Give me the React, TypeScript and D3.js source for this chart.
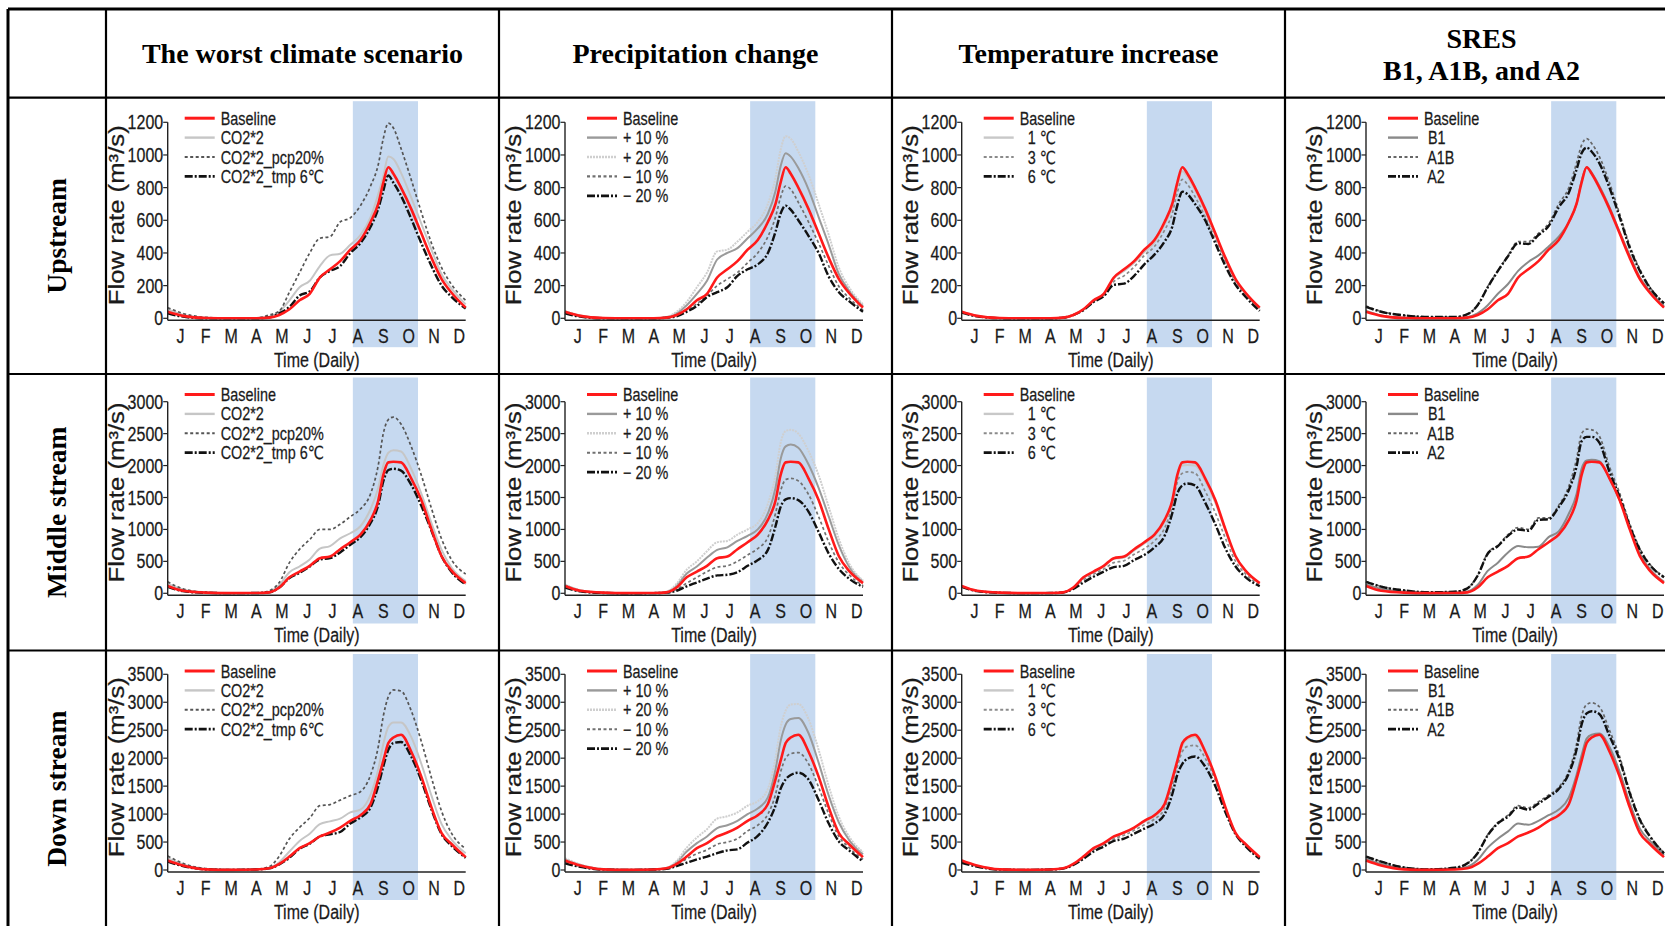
import * as d3 from "d3";

// month letters on the x axis, placed at mid-month
const monthLabels = ["J", "F", "M", "A", "M", "J", "J", "A", "S", "O", "N", "D"];
// sample positions in months (0 = 1 Jan)
const samplePos = [0, 0.6, 1.5, 2.5, 3.5, 4.0, 4.4, 4.8, 5.2, 5.6, 6.0, 6.4, 6.8, 7.2, 7.6, 8.0, 8.3, 8.5, 8.7, 8.9, 9.2, 9.6, 10.0, 10.4, 10.8, 11.2, 11.75];
// shaded period (months)
const floodSeason = [7.3, 9.87];

const columnTitles = [["The worst climate scenario"], ["Precipitation change"], ["Temperature increase"], ["SRES", "B1, A1B, and A2"]];
const rowTitles = ["Upstream", "Middle stream", "Down stream"];
const yMax = [1200, 3000, 3500];
const yStep = [200, 500, 500];

const legendLabels = [
  ["Baseline", "CO2*2", "CO2*2_pcp20%", "CO2*2_tmp 6℃"],
  ["Baseline", "+ 10 %", "+ 20 %", "− 10 %", "− 20 %"],
  ["Baseline", "  1 ℃", "  3 ℃", "  6 ℃"],
  ["Baseline", " B1", " A1B", " A2"],
];

// ---- upstream (m3/s)
const upBase = [40, 15, 2, 0, 0, 4, 20, 55, 110, 150, 250, 300, 350, 420, 480, 590, 700, 830, 925, 885, 800, 670, 520, 370, 240, 155, 65];
const upCO2 = [55, 22, 4, 0, 2, 10, 40, 110, 190, 230, 320, 385, 395, 450, 510, 620, 760, 870, 990, 975, 890, 740, 580, 420, 270, 180, 85];
const upPcp20 = [65, 30, 6, 1, 2, 20, 45, 160, 280, 400, 490, 500, 590, 615, 690, 810, 940, 1100, 1195, 1165, 1040, 850, 650, 460, 310, 205, 110];
const upTmp6 = [30, 10, 0, 0, 0, 6, 30, 70, 140, 165, 250, 290, 320, 400, 460, 560, 670, 780, 875, 830, 750, 610, 460, 320, 200, 130, 60];
const upP10 = [40, 16, 2, 0, 0, 6, 30, 80, 150, 230, 360, 400, 430, 490, 550, 640, 780, 930, 1010, 990, 920, 790, 620, 450, 270, 170, 75];
const upP20 = [45, 18, 3, 0, 0, 8, 40, 100, 190, 280, 410, 420, 470, 530, 590, 700, 860, 1030, 1115, 1100, 1020, 880, 700, 510, 310, 190, 85];
const upM10 = [35, 12, 1, 0, 0, 5, 20, 50, 90, 140, 200, 240, 280, 340, 400, 500, 620, 740, 810, 790, 710, 590, 460, 320, 195, 125, 50];
const upM20 = [30, 10, 0, 0, 0, 4, 12, 40, 75, 130, 160, 190, 260, 300, 330, 400, 530, 640, 690, 665, 600, 505, 400, 255, 160, 105, 40];
const upT1 = [40, 15, 2, 0, 0, 4, 20, 55, 105, 145, 245, 290, 340, 405, 465, 575, 680, 810, 900, 865, 785, 655, 510, 360, 235, 150, 62];
const upT3 = [38, 14, 2, 0, 0, 4, 20, 55, 105, 140, 225, 260, 315, 385, 440, 540, 640, 770, 850, 820, 745, 620, 485, 345, 225, 145, 60];
const upT6 = [35, 12, 1, 0, 0, 4, 20, 50, 100, 135, 205, 212, 260, 330, 390, 470, 560, 690, 775, 760, 700, 600, 460, 320, 205, 130, 45];
const upB1 = [45, 18, 4, 0, 1, 8, 30, 80, 150, 210, 290, 345, 385, 440, 500, 590, 700, 840, 925, 890, 810, 680, 530, 385, 250, 165, 75];
const upA1B = [75, 42, 18, 8, 8, 25, 80, 195, 290, 385, 470, 470, 520, 580, 700, 800, 950, 1060, 1100, 1070, 990, 830, 640, 445, 300, 190, 95];
const upA2 = [70, 40, 18, 8, 8, 25, 80, 190, 290, 380, 460, 455, 510, 565, 680, 770, 910, 1010, 1045, 1020, 950, 800, 620, 430, 290, 185, 92];

// ---- middle stream
const midBase = [115, 40, 10, 2, 5, 15, 90, 250, 340, 430, 550, 575, 690, 800, 920, 1150, 1450, 1850, 2050, 2060, 2050, 1800, 1460, 1000, 580, 350, 160];
const midCO2 = [150, 60, 15, 3, 5, 25, 130, 330, 420, 530, 700, 740, 860, 940, 1050, 1320, 1650, 2000, 2200, 2240, 2220, 1950, 1560, 1100, 680, 400, 190];
const midPcp20 = [180, 70, 15, 3, 5, 40, 170, 480, 690, 840, 1000, 1000, 1080, 1200, 1320, 1560, 2000, 2500, 2720, 2760, 2650, 2300, 1850, 1330, 850, 520, 300];
const midTmp6 = [100, 35, 8, 2, 5, 15, 90, 240, 320, 420, 530, 550, 640, 760, 880, 1100, 1380, 1750, 1930, 1950, 1920, 1700, 1370, 980, 580, 330, 140];
const midP10 = [130, 45, 10, 2, 5, 20, 120, 310, 420, 560, 680, 720, 820, 900, 1000, 1250, 1650, 2100, 2300, 2330, 2280, 2020, 1650, 1200, 750, 420, 180];
const midP20 = [140, 50, 12, 3, 6, 25, 150, 370, 500, 660, 800, 820, 920, 1000, 1100, 1400, 1850, 2350, 2540, 2560, 2500, 2230, 1850, 1350, 850, 470, 200];
const midM10 = [100, 35, 6, 1, 4, 12, 60, 160, 250, 340, 410, 430, 500, 600, 700, 880, 1250, 1600, 1780, 1800, 1760, 1550, 1200, 800, 480, 290, 120];
const midM20 = [90, 30, 5, 1, 3, 10, 40, 110, 170, 230, 280, 290, 330, 430, 520, 680, 1050, 1350, 1470, 1490, 1460, 1280, 960, 620, 380, 230, 100];
const midT1 = [110, 40, 10, 2, 5, 15, 85, 240, 330, 420, 540, 560, 670, 780, 900, 1120, 1420, 1820, 2000, 2010, 2000, 1760, 1420, 980, 570, 350, 150];
const midT3 = [105, 38, 9, 2, 4, 14, 80, 210, 300, 380, 480, 510, 610, 700, 820, 1020, 1370, 1740, 1880, 1900, 1880, 1600, 1260, 860, 500, 300, 130];
const midT6 = [100, 35, 8, 2, 4, 12, 70, 170, 260, 340, 410, 430, 520, 600, 720, 900, 1250, 1560, 1690, 1720, 1690, 1420, 1080, 700, 420, 250, 110];
const midB1 = [140, 70, 25, 8, 12, 30, 130, 350, 480, 640, 740, 720, 730, 880, 970, 1250, 1550, 1950, 2080, 2090, 2070, 1800, 1460, 1040, 620, 380, 180];
const midA1B = [185, 108, 46, 16, 25, 80, 280, 630, 750, 920, 1030, 1000, 1180, 1180, 1380, 1680, 2100, 2500, 2570, 2560, 2460, 1980, 1570, 1090, 700, 450, 260];
const midA2 = [180, 104, 45, 16, 25, 78, 275, 620, 740, 900, 1000, 980, 1150, 1160, 1350, 1620, 1980, 2380, 2450, 2450, 2360, 1900, 1510, 1050, 680, 440, 250];

// ---- down stream
const downBase = [170, 80, 12, 3, 10, 30, 110, 240, 390, 480, 600, 670, 760, 880, 980, 1180, 1620, 1950, 2270, 2370, 2420, 2120, 1670, 1120, 660, 460, 230];
const downCO2 = [210, 100, 20, 5, 12, 40, 140, 330, 520, 650, 820, 870, 920, 1030, 1080, 1350, 1800, 2250, 2560, 2640, 2640, 2380, 1900, 1330, 820, 540, 300];
const downPcp20 = [250, 120, 25, 6, 14, 60, 250, 560, 760, 930, 1150, 1170, 1250, 1330, 1400, 1700, 2200, 2750, 3100, 3220, 3200, 2850, 2300, 1650, 1050, 650, 380];
const downTmp6 = [150, 70, 10, 2, 10, 28, 100, 220, 380, 470, 600, 640, 680, 830, 940, 1120, 1500, 1850, 2150, 2270, 2290, 2030, 1600, 1080, 640, 430, 220];
const downP10 = [190, 90, 16, 4, 11, 35, 140, 330, 480, 600, 750, 800, 880, 1000, 1100, 1300, 1800, 2300, 2600, 2700, 2720, 2450, 1920, 1330, 850, 540, 280];
const downP20 = [210, 100, 20, 5, 12, 40, 160, 400, 580, 730, 920, 960, 1030, 1150, 1230, 1450, 2000, 2550, 2850, 2960, 2970, 2700, 2150, 1500, 950, 600, 320];
const downM10 = [140, 65, 10, 2, 9, 25, 90, 200, 290, 360, 460, 500, 560, 700, 800, 1000, 1350, 1750, 2000, 2080, 2100, 1900, 1480, 1000, 600, 400, 190];
const downM20 = [120, 55, 8, 2, 8, 20, 70, 130, 190, 240, 300, 350, 370, 490, 610, 850, 1150, 1450, 1620, 1700, 1740, 1620, 1250, 830, 510, 350, 150];
const downT1 = [165, 78, 11, 3, 10, 30, 105, 235, 380, 470, 590, 660, 750, 860, 960, 1160, 1590, 1920, 2230, 2340, 2380, 2100, 1650, 1110, 660, 455, 225];
const downT3 = [150, 70, 10, 3, 10, 28, 100, 220, 360, 450, 560, 620, 710, 810, 910, 1100, 1500, 1850, 2120, 2210, 2230, 2000, 1600, 1080, 650, 440, 215];
const downT6 = [130, 60, 8, 2, 9, 25, 90, 200, 330, 420, 520, 560, 650, 740, 830, 1000, 1350, 1700, 1900, 1990, 2030, 1850, 1500, 1030, 640, 420, 200];
const downB1 = [200, 110, 30, 8, 25, 60, 180, 400, 560, 690, 830, 810, 880, 980, 1080, 1300, 1700, 2050, 2350, 2420, 2440, 2200, 1760, 1200, 740, 520, 270];
const downA1B = [245, 152, 46, 12, 40, 120, 305, 630, 850, 980, 1150, 1110, 1220, 1340, 1480, 1780, 2250, 2750, 2960, 2990, 2920, 2500, 2030, 1410, 920, 610, 305];
const downA2 = [238, 149, 45, 12, 40, 119, 300, 620, 835, 954, 1120, 1080, 1190, 1310, 1450, 1729, 2150, 2600, 2800, 2840, 2790, 2400, 1968, 1371, 894, 596, 298];

// panels[row][col] -> series in legend order (baseline first)
const panels = [
  [[upBase, upCO2, upPcp20, upTmp6], [upBase, upP10, upP20, upM10, upM20], [upBase, upT1, upT3, upT6], [upBase, upB1, upA1B, upA2]],
  [[midBase, midCO2, midPcp20, midTmp6], [midBase, midP10, midP20, midM10, midM20], [midBase, midT1, midT3, midT6], [midBase, midB1, midA1B, midA2]],
  [[downBase, downCO2, downPcp20, downTmp6], [downBase, downP10, downP20, downM10, downM20], [downBase, downT1, downT3, downT6], [downBase, downB1, downA1B, downA2]],
];

// line looks
const RED = { stroke: "#ff1a1a", width: 2.6, dash: "" };
const DOT = (c) => ({ stroke: c, width: 1.7, dash: "3,2.5" });
const SOLID = (c) => ({ stroke: c, width: 2, dash: "" });
const DASHDOT = { stroke: "#111", width: 2.4, dash: "8,2,2,2" };
const lineStyles = [
  [RED, SOLID("#c6c6c6"), DOT("#555"), DASHDOT],
  [RED, SOLID("#9a9a9a"), { stroke: "#cfcfcf", width: 2, dash: "2,1" }, DOT("#707070"), DASHDOT],
  [RED, SOLID("#c8c8c8"), DOT("#8a8a8a"), DASHDOT],
  [RED, SOLID("#8a8a8a"), DOT("#666"), DASHDOT],
];

// layout
const W = 1665;
const H = 926;
const colX = [8, 106, 499, 892, 1285, 1678];
const rowY = [9, 97.7, 374, 650.5, 927];
const plotLeft = [167.7, 565, 961.7, 1366];
const plotW = 298;
const yTopPx = [122.3, 401.7, 674.3];
const yZeroPx = [318.3, 593.3, 870];
const legendOffset = [17, 22, 22, 22];

const SANS = "'Liberation Sans', Arial, 'DejaVu Sans', sans-serif";
const SERIF = "'Liberation Serif', 'Times New Roman', serif";
const NARROW = 0.8;

function NText({ x, y, size, anchor = "start", children, fill = "#1a1a1a" }) {
  return (
    <text
      transform={`translate(${x},${y}) scale(${NARROW},1)`}
      fontSize={size}
      fontFamily={SANS}
      textAnchor={anchor}
      fill={fill}
      stroke={fill}
      strokeWidth={0.25}
      style={{ whiteSpace: "pre" }}
    >
      {children}
    </text>
  );
}

function Panel({ row, col }) {
  const left = plotLeft[col];
  const x = d3.scaleLinear().domain([0, 11.75]).range([left, left + plotW]);
  const y = d3.scaleLinear().domain([0, yMax[row]]).range([yZeroPx[row], yTopPx[row]]);
  const line = d3
    .line<number>()
    .x((_, i) => x(samplePos[i]))
    .y((d) => y(d))
    .curve(d3.curveMonotoneX);
  const ticks = d3.range(0, yMax[row] + 1, yStep[row]);
  const series = panels[row][col];
  const styles = lineStyles[col];
  const top = rowY[row + 1];
  const axisY = y(0) + 2;

  // draw the scenario lines first, baseline on top
  const order = series.map((_, i) => i).slice(1).concat([0]);

  return (
    <g>
      <rect
        x={x(floodSeason[0])}
        y={top + 3.5}
        width={x(floodSeason[1]) - x(floodSeason[0])}
        height={246}
        fill="#c6d9f0"
      />
      {order.map((i) => (
        <path
          key={i}
          d={line(series[i]) || ""}
          fill="none"
          stroke={styles[i].stroke}
          strokeWidth={styles[i].width}
          strokeDasharray={styles[i].dash}
          strokeLinejoin="round"
        />
      ))}
      {/* axes */}
      <line x1={left} x2={left + plotW} y1={axisY} y2={axisY} stroke="#222" strokeWidth={1.6} />
      <line x1={left} x2={left} y1={y(yMax[row])} y2={axisY} stroke="#222" strokeWidth={1.4} />
      {ticks.map((t) => (
        <g key={t}>
          <line x1={left - 4.5} x2={left} y1={y(t)} y2={y(t)} stroke="#222" strokeWidth={1.2} />
          <NText x={left - 4.5} y={y(t) + 7} size={20} anchor="end">
            {String(t)}
          </NText>
        </g>
      ))}
      {monthLabels.map((m, i) => (
        <NText key={i} x={x(i + 0.5)} y={y(0) + 25} size={20} anchor="middle">
          {m}
        </NText>
      ))}
      <NText x={left + plotW / 2} y={y(0) + 49} size={20} anchor="middle">
        Time (Daily)
      </NText>
      <text
        transform={`translate(${left - 44},${(y(0) + y(yMax[row])) / 2 - 5}) rotate(-90)`}
        fontSize={22}
        fontFamily={SANS}
        textAnchor="middle"
        fill="#1a1a1a"
        stroke="#1a1a1a"
        strokeWidth={0.25}
        textLength={180}
        lengthAdjust="spacingAndGlyphs"
      >
        Flow rate (m³/s)
      </text>
      {/* legend */}
      {legendLabels[col].map((lab, i) => {
        const ly = top + 20.5 + i * 19.4;
        const lx = left + legendOffset[col];
        const s = styles[i];
        return (
          <g key={i}>
            <line x1={lx} x2={lx + 30} y1={ly} y2={ly} stroke={s.stroke} strokeWidth={s.width + 0.4} strokeDasharray={s.dash} />
            <NText x={lx + 36} y={ly + 6.5} size={18}>
              {lab}
            </NText>
          </g>
        );
      })}
    </g>
  );
}

export default function App() {
  const colCenters = [1, 2, 3, 4].map((c) => (colX[c] + colX[c + 1]) / 2);
  return (
    <svg
      width={W}
      height={H}
      style={{ position: "absolute", left: 0, top: 0, display: "block", background: "#fff" }}
    >
      <rect x={0} y={0} width={W} height={H} fill="#fff" />
      {/* headers */}
      {columnTitles.map((lines, c) =>
        lines.map((t, k) => (
          <text
            key={`${c}-${k}`}
            x={colCenters[c]}
            y={lines.length === 1 ? 63 : 48 + k * 32}
            fontFamily={SERIF}
            fontWeight="bold"
            fontSize={28}
            textAnchor="middle"
            fill="#000"
          >
            {t}
          </text>
        ))
      )}
      {rowTitles.map((t, r) => (
        <text
          key={t}
          transform={`translate(${(colX[0] + colX[1]) / 2 + 9},${(rowY[r + 1] + rowY[r + 2]) / 2}) rotate(-90)`}
          fontFamily={SERIF}
          fontWeight="bold"
          fontSize={27.5}
          textAnchor="middle"
          fill="#000"
        >
          {t}
        </text>
      ))}
      {[0, 1, 2].map((r) => [0, 1, 2, 3].map((c) => <Panel key={`${r}-${c}`} row={r} col={c} />))}
      {/* table grid */}
      {rowY.map((yy, i) => (
        <line key={`h${i}`} x1={colX[0]} x2={colX[5]} y1={yy} y2={yy} stroke="#000" strokeWidth={i === 0 ? 3 : 2.2} />
      ))}
      {colX.map((xx, i) => (
        <line key={`v${i}`} x1={xx} x2={xx} y1={rowY[0]} y2={rowY[4]} stroke="#000" strokeWidth={i === 0 ? 3 : 2.2} />
      ))}
    </svg>
  );
}
